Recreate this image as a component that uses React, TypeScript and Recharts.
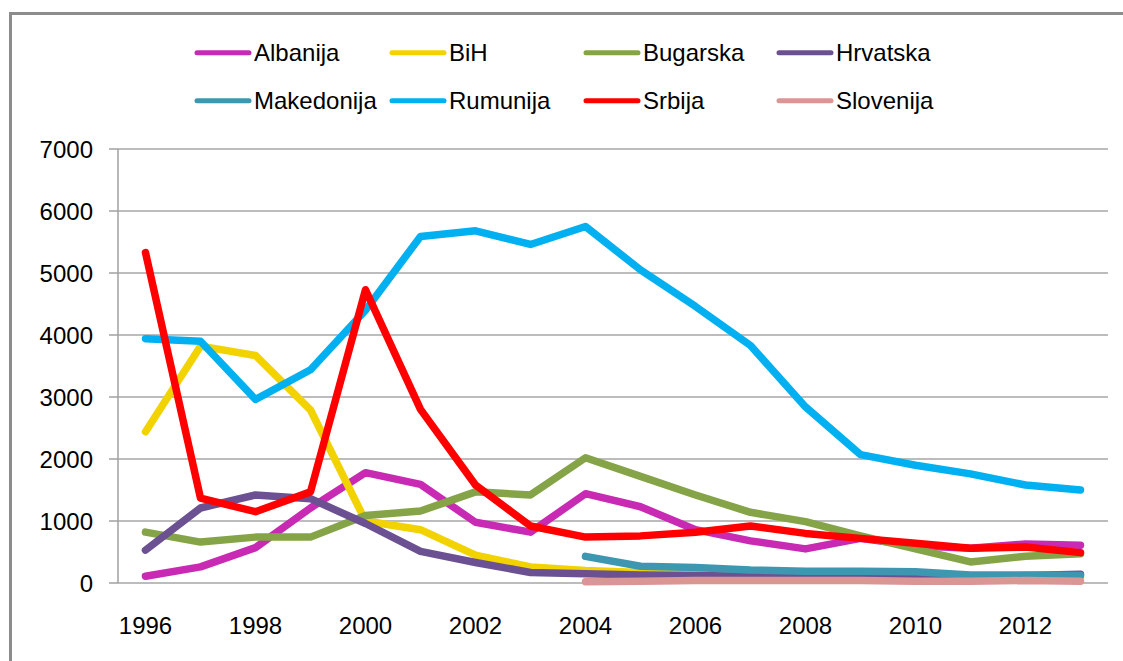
import { LineChart, Line, XAxis, YAxis, CartesianGrid } from 'recharts';

const YEARS = [
  1996, 1997, 1998, 1999, 2000, 2001, 2002, 2003, 2004,
  2005, 2006, 2007, 2008, 2009, 2010, 2011, 2012, 2013,
];
const LABEL_YEARS = [1996, 1998, 2000, 2002, 2004, 2006, 2008, 2010, 2012];
const Y_TICKS = [0, 1000, 2000, 3000, 4000, 5000, 6000, 7000];

const albanija = [110, 260, 570, 1210, 1780, 1590, 980, 820, 1440, 1230, 860, 680, 550, 720, 600, 560, 630, 610];
const bih = [2440, 3820, 3670, 2790, 1000, 860, 450, 260, 200, 170, 140, 120, 110, 100, 100, 90, 90, 90];
const bugarska = [820, 660, 740, 740, 1090, 1160, 1470, 1420, 2020, 1720, 1420, 1140, 990, 760, 550, 340, 430, 470];
const hrvatska = [530, 1210, 1420, 1360, 960, 510, 330, 170, 150, 130, 120, 110, 100, 100, 90, 100, 120, 140];
const makedonija = [null, null, null, null, null, null, null, null, 430, 270, 250, 210, 190, 190, 180, 130, 130, 120];
const rumunija = [3940, 3900, 2960, 3440, 4400, 5590, 5680, 5460, 5750, 5050, 4460, 3830, 2840, 2070, 1900, 1760, 1580, 1500];
const srbija = [5330, 1370, 1150, 1470, 4730, 2800, 1580, 920, 740, 760, 820, 920, 800, 720, 640, 560, 580, 490];
const slovenija = [null, null, null, null, null, null, null, null, 20, 30, 40, 40, 40, 40, 30, 30, 40, 30];

const SERIES = [
  { key: 'Albanija', values: albanija, color: '#c82ab4' },
  { key: 'BiH', values: bih, color: '#f2d300' },
  { key: 'Bugarska', values: bugarska, color: '#85a448' },
  { key: 'Hrvatska', values: hrvatska, color: '#6b5191' },
  { key: 'Makedonija', values: makedonija, color: '#3d97b0' },
  { key: 'Rumunija', values: rumunija, color: '#00b0f0' },
  { key: 'Srbija', values: srbija, color: '#ff0000' },
  { key: 'Slovenija', values: slovenija, color: '#d99694' },
];

const data = YEARS.map((year, i) => {
  const row: Record<string, number | null> = { year };
  SERIES.forEach((s) => {
    row[s.key] = s.values[i];
  });
  return row;
});

// tick marks sit between the years, like the Excel category axis
const BOUNDARIES = [...YEARS.map((y) => y - 0.5), YEARS[YEARS.length - 1] + 0.5];
const X_DOMAIN = [BOUNDARIES[0], BOUNDARIES[BOUNDARIES.length - 1]];

const FONT = '"Liberation Sans", Arial, sans-serif';
const AXIS = '#a0a0a0';

const LEGEND_COLS = [195, 390, 584, 777];
const LEGEND_ROWS = [52.7, 100.7];

export default function App() {
  return (
    <div
      style={{
        position: 'absolute',
        left: 0,
        top: 0,
        width: 1123,
        height: 661,
        overflow: 'hidden',
        background: '#fff',
        fontFamily: FONT,
      }}
    >
      <div
        style={{
          position: 'absolute',
          left: 9,
          top: 12,
          width: 2000,
          height: 2000,
          borderTop: '3px solid #8c8c8c',
          borderLeft: '3px solid #8c8c8c',
        }}
      />
      <svg
        width={1123}
        height={130}
        style={{ position: 'absolute', left: 0, top: 0 }}
      >
        {SERIES.map((s, i) => {
          const x = LEGEND_COLS[i % 4];
          const y = LEGEND_ROWS[Math.floor(i / 4)];
          return (
            <g key={s.key}>
              <line
                x1={x + 2}
                x2={x + 54}
                y1={y}
                y2={y}
                stroke={s.color}
                strokeWidth={5}
                strokeLinecap="round"
              />
              <text x={x + 59} y={y + 8} fontSize={24} fill="#000" fontFamily={FONT}>
                {s.key}
              </text>
            </g>
          );
        })}
      </svg>
      <div style={{ position: 'absolute', left: 0, top: 0 }}>
        <LineChart
          width={1123}
          height={661}
          data={data}
          margin={{ top: 149, right: 15, bottom: 0, left: 0 }}
          style={{ fontFamily: FONT }}
        >
          <CartesianGrid vertical={false} stroke="#a6a6a6" strokeWidth={1.5} />
          <XAxis
            xAxisId="marks"
            type="number"
            domain={X_DOMAIN}
            ticks={BOUNDARIES}
            tickFormatter={() => ''}
            tickSize={9}
            height={0}
            stroke={AXIS}
            strokeWidth={1.5}
            allowDataOverflow
          />
          <XAxis
            xAxisId="years"
            dataKey="year"
            type="number"
            domain={X_DOMAIN}
            ticks={LABEL_YEARS}
            axisLine={false}
            tickLine={false}
            tickSize={0}
            tickMargin={34}
            height={78}
            tick={{ fill: '#000', fontSize: 24 }}
            allowDataOverflow
          />
          <YAxis
            domain={[0, 7000]}
            ticks={Y_TICKS}
            width={118}
            tickSize={9}
            tickMargin={16}
            stroke={AXIS}
            strokeWidth={1.5}
            tick={{ fill: '#000', fontSize: 24 }}
          />
          {SERIES.map((s) => (
            <Line
              key={s.key}
              xAxisId="years"
              type="linear"
              dataKey={s.key}
              stroke={s.color}
              strokeWidth={7.5}
              strokeLinecap="round"
              strokeLinejoin="round"
              dot={false}
              activeDot={false}
              isAnimationActive={false}
            />
          ))}
        </LineChart>
      </div>
    </div>
  );
}
